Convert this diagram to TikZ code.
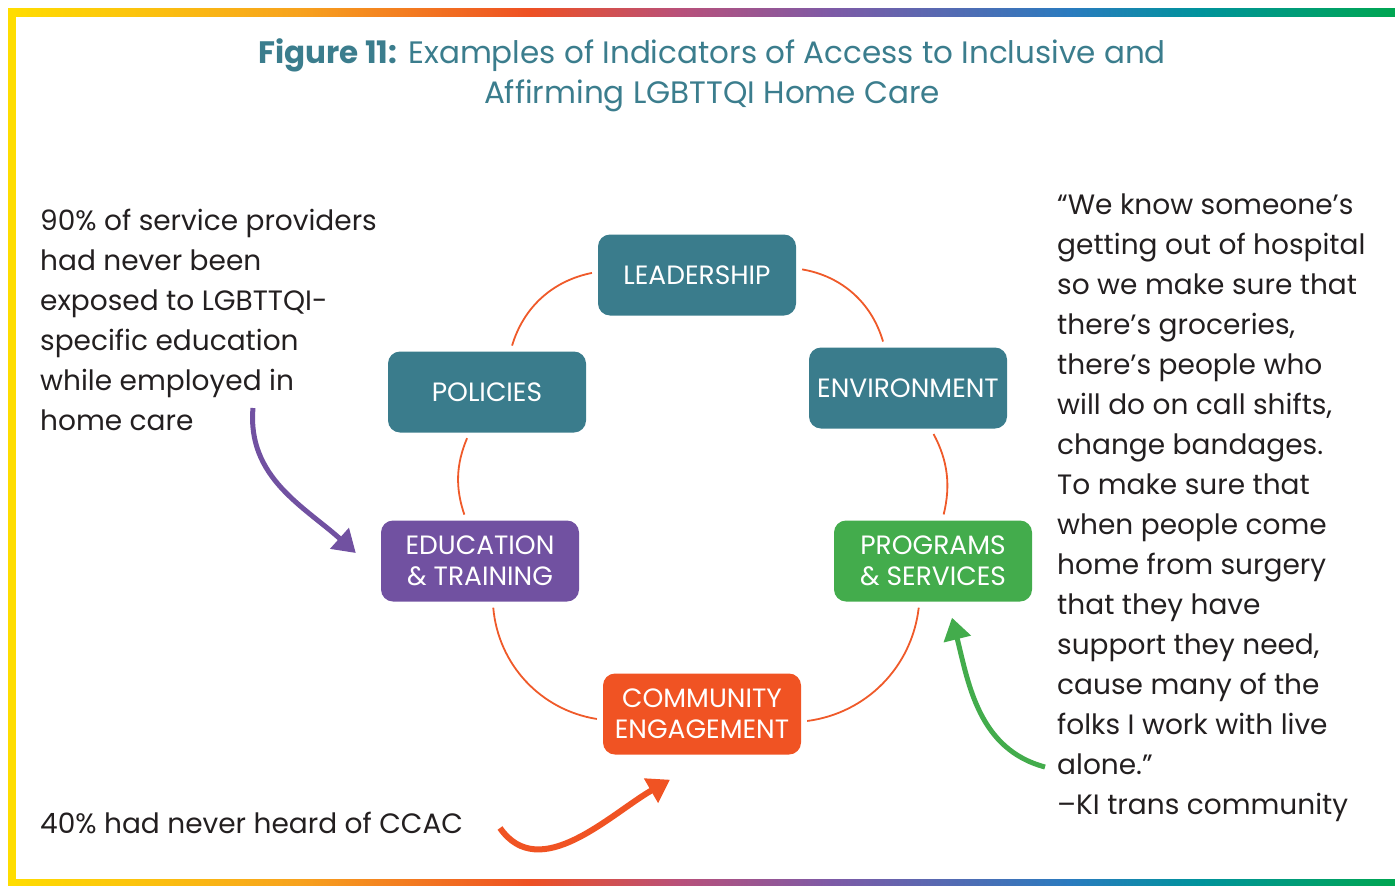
\documentclass[tikz,border=0pt]{standalone}
\usepackage{fontspec}
\setmainfont{Poppins}
\usetikzlibrary{arrows.meta}

\definecolor{title color}{HTML}{3B7D8D}
\definecolor{area teal}{HTML}{3A7C8C}
\definecolor{area purple}{HTML}{7151A1}
\definecolor{area green}{HTML}{43AC4C}
\definecolor{area orange}{HTML}{F05323}
\definecolor{ring color}{HTML}{EF5A2A}
\definecolor{note color}{HTML}{231F20}
% frame band stops
\definecolor{band1}{HTML}{FFDD00}
\definecolor{band2}{HTML}{F7A21E}
\definecolor{band3}{HTML}{EE5023}
\definecolor{band4}{HTML}{B8507A}
\definecolor{band5}{HTML}{7E5AA6}
\definecolor{band6}{HTML}{2A7BBF}
\definecolor{band7}{HTML}{00939C}
\definecolor{band8}{HTML}{00A651}

\tikzset{
    x={1pt},
    y={-1pt},
    area box/.style={
        fill={#1},
        rounded corners={12pt},
        minimum width={198},
        minimum height={81},
        inner sep=0pt,
        align=center,
        text=white,
        font={\fontsize{26.5}{31}\selectfont},
    },
    ring/.style={
        draw=ring color,
        line width={1.8pt},
        shorten <=6pt,
        shorten >=6pt,
    },
    note/.style={
        anchor=north west,
        align=left,
        inner sep=0pt,
        text=note color,
        font={\fontsize{28}{40}\selectfont},
    },
    pointer/.style={
        draw={#1},
        line width={5pt},
        -{Triangle[length=22pt,width=27pt]},
    },
}

\begin{document}
\begin{tikzpicture}
\useasboundingbox (0,0) rectangle (1395,886);
% frame
\foreach \xa/\xb/\ca/\cb in {8/300/band1/band2, 299.5/530/band2/band3, 529.5/680/band3/band4, 679.5/830/band4/band5, 829.5/1070/band5/band6, 1069.5/1200/band6/band7, 1199.5/1395/band7/band8} {
    \shade[left color=\ca, right color=\cb] (\xa,8) rectangle (\xb,16);
    \shade[left color=\ca, right color=\cb] (\xa,879) rectangle (\xb,887);
}
\fill[band1] (8,8) rectangle (16,886);
% title
\node[align=center, text=title color, font={\fontsize{31}{40}\selectfont}] (title) at (712,75)
    {\textbf{Figure 11:} Examples of Indicators of Access to Inclusive and\\Affirming LGBTTQI Home Care};
% areas
\node[area box={area teal}] (lead) at (697,275) {LEADERSHIP};
\node[area box={area teal}] (pol) at (487,392) {POLICIES};
\node[area box={area teal}] (env) at (908,388) {ENVIRONMENT};
\node[area box={area purple}] (edu) at (480,561) {EDUCATION\\\& TRAINING};
\node[area box={area green}] (prog) at (933,561) {PROGRAMS\\\& SERVICES};
\node[area box={area orange}] (comm) at (702,714) {COMMUNITY\\ENGAGEMENT};
% ring
\path[ring] (lead) to[bend right=31] (pol);
\path[ring] (pol) to[bend right=21] (edu);
\path[ring] (edu) to[bend right=38] (comm);
\path[ring] (comm) to[bend right=38] (prog);
\path[ring] (prog) to[bend right=21] (env);
\path[ring] (env) to[bend right=32] (lead);
% notes
\node[note] (svcnote) at (40,209) {90\% of service providers\\had never been\\exposed to LGBTTQI-\\specific education\\while employed in\\home care};
\node[note] (ccacnote) at (40,812) {40\% had never heard of CCAC};
\node[note] (quote) at (1057,194) {“We know someone’s\\getting out of hospital\\so we make sure that\\there’s groceries,\\there’s people who\\will do on call shifts,\\change bandages.\\To make sure that\\when people come\\home from surgery\\that they have\\support they need,\\cause many of the\\folks I work with live\\alone.”\\–KI trans community};
% pointers
\coordinate (svc tail) at (253,408);
\coordinate (edu tip) at ([shift={(-25,-8)}]edu.west);
\coordinate (ccac tail) at (500,828);
\coordinate (comm tip) at ([shift={(-32,25)}]comm.south);
\coordinate (quote tail) at (1045,767);
\coordinate (prog tip) at ([shift={(19,16)}]prog.south);
\path[pointer={area purple}] (svc tail) to[out=-95, in=138] (edu tip);
\path[pointer={area orange}, line width={6pt}] (ccac tail) to[out=-55, in=-150] (comm tip);
\path[pointer={area green}] (quote tail) to[out=165, in=-76] (prog tip);
\end{tikzpicture}
\end{document}
